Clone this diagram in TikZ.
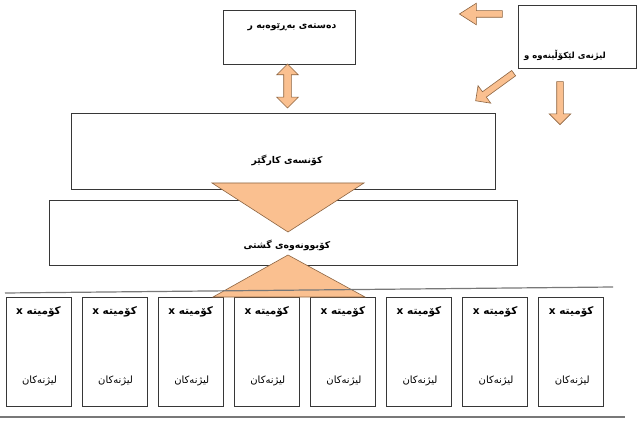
\documentclass[tikz,border=0pt]{standalone}
\usepackage{fontspec}
\TeXXeTstate=1
\newfontfamily\kurd[Script=Arabic]{DejaVu Sans}
\usetikzlibrary{shapes.arrows}
\definecolor{peach}{RGB}{250,192,144}
\definecolor{peachline}{RGB}{140,100,65}
\definecolor{boxline}{RGB}{55,55,55}
\definecolor{sepline}{RGB}{120,120,120}
\begin{document}
\begin{tikzpicture}[x=1pt,y=-1pt,
  box/.style={draw=boxline, line width=0.8pt, fill=white, anchor=north west, inner sep=0pt, outer sep=0pt},
  head/.style={font=\kurd\bfseries\fontsize{9.3}{11}\selectfont, inner sep=0pt},
  chead/.style={font=\kurd\bfseries\fontsize{10.5}{12}\selectfont, inner sep=0pt},
  plain/.style={font=\kurd\fontsize{10}{12}\selectfont, inner sep=0pt},
  blockarrow/.style={single arrow, fill=peach, draw=peachline, line width=0.6pt, inner sep=3pt, single arrow head extend=7.5pt},
  dblarrow/.style={double arrow, fill=peach, draw=peachline, line width=0.6pt, inner sep=3.5pt, double arrow head extend=7pt},
  tri/.style={fill=peach, draw=peachline, line width=0.6pt},
  sep/.style={draw=sepline, line width=1.2pt}]
\useasboundingbox (0,0) rectangle (640,422);
\fill[white] (0,0) rectangle (640,422);

% top boxes
\node[box, minimum width=132pt, minimum height=54pt] (board) at (223,10) {};
\node[head] (boardtxt) at (292,27) {\beginR دەستەی بەڕێوەبە ر\endR};
\node[box, minimum width=118pt, minimum height=63pt] (inv) at (518,5) {};
\node[head, font=\kurd\bfseries\fontsize{8.5}{11}\selectfont] (invtxt) at (565,55) {\beginR لیژنەی لێکۆڵینەوە و\endR};

% main boxes
\node[box, minimum width=424pt, minimum height=76pt] (exec) at (71,113) {};
\node[box, minimum width=468pt, minimum height=65pt] (gen) at (49,200) {};

% block arrows
\node[dblarrow, minimum height=44pt, rotate=90] (a1) at (287.5,86) {};
\node[blockarrow, minimum height=43pt, single arrow tip angle=65, rotate=180] (a2) at (483.5,14) {};
\node[blockarrow, minimum height=47pt, rotate=216] (a3) at (496,86) {};
\node[blockarrow, minimum height=43pt, rotate=-90] (a4) at (560,101.5) {};

% committees
\foreach \i in {0,...,7}{
  \node[box, minimum width=65pt, minimum height=109pt] (c\i) at ({6+76.1*\i},297) {};
  \node[chead] (ct\i) at ({38.5+76.1*\i},312) {\beginR کۆمیتە x\endR};
  \node[plain] (cl\i) at ({39.5+76.1*\i},381) {\beginR لیژنەکان\endR};
}

% triangles
\coordinate (t1a) at (212,183); \coordinate (t1b) at (364,183); \coordinate (t1c) at (288,232);
\draw[tri] (t1a) -- (t1b) -- (t1c) -- cycle;
\coordinate (t2a) at (288,255); \coordinate (t2b) at (365,297); \coordinate (t2c) at (213,297);
\draw[tri] (t2a) -- (t2b) -- (t2c) -- cycle;

\node[head] (exectxt) at (287,160) {\beginR کۆنسەی کارگێر\endR};
\node[head] (gentxt) at (287,245) {\beginR کۆبوونەوەی گشتی\endR};

% separator lines
\coordinate (l1a) at (5,293); \coordinate (l1b) at (613,287);
\draw[sep] (l1a) -- (l1b);
\coordinate (l2a) at (0,417); \coordinate (l2b) at (625,417);
\draw[sep] (l2a) -- (l2b);
\end{tikzpicture}
\end{document}
